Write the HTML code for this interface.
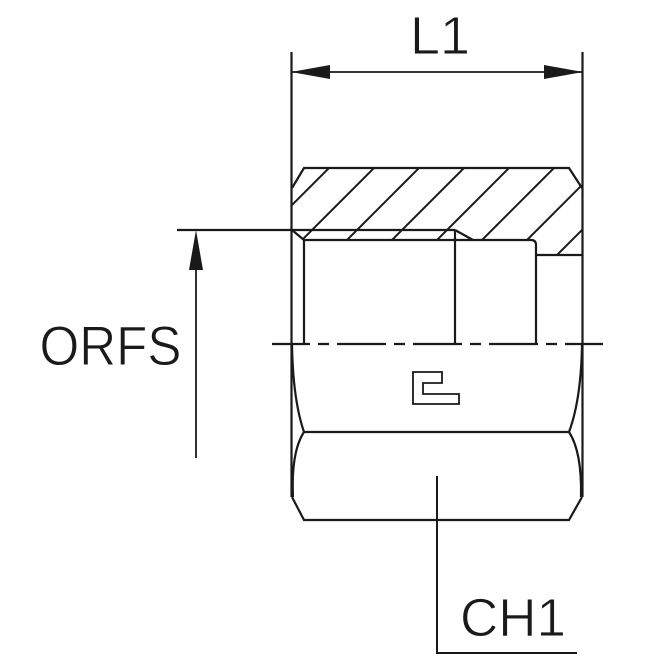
<!DOCTYPE html>
<html><head><meta charset="utf-8"><style>html,body{margin:0;padding:0;background:#fff}svg{display:block}</style></head>
<body>
<svg width="670" height="670" viewBox="0 0 670 670" xmlns="http://www.w3.org/2000/svg">
<defs>
<clipPath id="hc"><polygon points="304,168 569,168 582,188 582,255 536,255 536,245 531,240 304,240 292,230 292,188"/></clipPath>
</defs>
<g fill="none" stroke="#1a1a1a" stroke-width="2.2" stroke-linecap="butt">
<line x1="291.5" y1="52" x2="291.5" y2="497"/>
<line x1="582.5" y1="52" x2="582.5" y2="497"/>
<line x1="292" y1="72" x2="582" y2="72" stroke-width="1.8"/>
<polyline points="292,188 304,168 569,168 582,188"/>
<line x1="177" y1="230" x2="455" y2="230"/>
<line x1="292" y1="230" x2="304" y2="240"/>
<line x1="455" y1="230" x2="473" y2="240"/>
<path d="M304,240 L531,240 Q536,240 536,245 L536,344"/>
<line x1="304" y1="240" x2="304" y2="344"/>
<line x1="455" y1="230" x2="455" y2="344"/>
<line x1="536" y1="255" x2="582" y2="255"/>
<g clip-path="url(#hc)" stroke-width="2">
<line x1="177" y1="320" x2="437" y2="60"/>
<line x1="222" y1="320" x2="482" y2="60"/>
<line x1="267" y1="320" x2="527" y2="60"/>
<line x1="312" y1="320" x2="572" y2="60"/>
<line x1="357" y1="320" x2="617" y2="60"/>
<line x1="402" y1="320" x2="662" y2="60"/>
<line x1="447" y1="320" x2="707" y2="60"/>
<line x1="492" y1="320" x2="752" y2="60"/>
</g>
<line x1="272" y1="344" x2="603" y2="344" stroke-dasharray="49 8 11 8" stroke-dashoffset="11"/>
<path d="M292,345 Q293,400 304,432"/>
<path d="M582,345 Q581,400 569,432"/>
<line x1="304" y1="432" x2="569" y2="432"/>
<path d="M304,432 Q291,452 293,497"/>
<path d="M569,432 Q582,452 581,497"/>
<polyline points="292,497 304,520 569,520 582,497"/>
<polygon points="413,372 442,372 442,383 423,383 423,394 459,394 459,404 413,404" stroke-width="1.8"/>
<line x1="196" y1="250" x2="196" y2="458" stroke-width="1.8"/>
<polyline points="437,476 437,653 577,653" stroke-width="2"/>
</g>
<g fill="#1a1a1a">
<polygon points="291,72 330,65 330,79"/>
<polygon points="583,72 544,65 544,79"/>
<polygon points="196,230 189,270 203,270"/>
</g>
<g fill="#1a1a1a" stroke="#fff" stroke-width="0.9" font-family="Liberation Sans, sans-serif">
<text x="410" y="54" font-size="54">L1</text>
<text x="39.5" y="365" font-size="56" textLength="142" lengthAdjust="spacingAndGlyphs">ORFS</text>
<text x="460" y="636" font-size="54" textLength="106" lengthAdjust="spacingAndGlyphs">CH1</text>
</g>
</svg>
</body></html>
